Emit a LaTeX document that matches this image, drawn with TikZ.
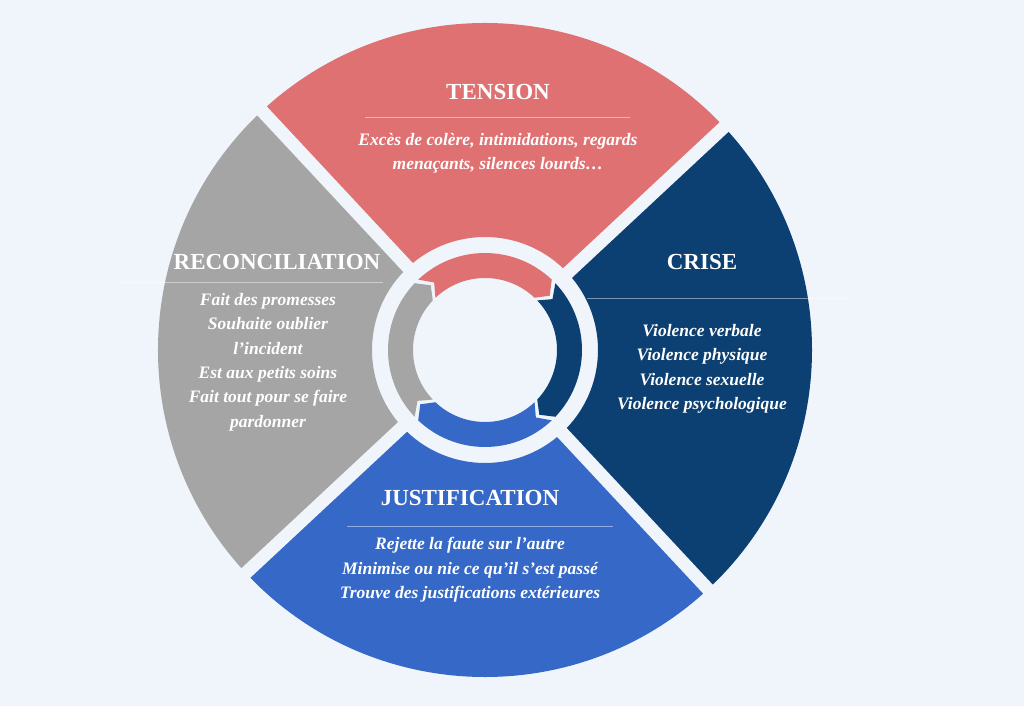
\documentclass[tikz,border=0pt]{standalone}
\usepackage{fontspec}
\setmainfont{Liberation Serif}
\usetikzlibrary{calc}
\definecolor{BgColor}{HTML}{EFF5FB}
\definecolor{TensionRed}{HTML}{E07172}
\definecolor{CriseBlue}{HTML}{0C3F72}
\definecolor{JustBlue}{HTML}{3568C7}
\definecolor{ReconGray}{HTML}{A5A5A5}
\tikzstyle{TitleNode}=[text=white, inner sep=0pt, font=\fontsize{23}{27}\selectfont\bfseries]
\tikzstyle{BodyNode}=[text=white, inner sep=0pt, align=center, font=\fontsize{17.5}{24.4}\selectfont\bfseries\itshape]
\tikzstyle{SepLine}=[white, opacity=.45, line width=.8pt]
\tikzstyle{GapLine}=[BgColor, line width=13pt]

\begin{document}
\begin{tikzpicture}[x=1pt, y=1pt]
\fill[BgColor] (-485,-356) rectangle (539,350);
\useasboundingbox (-485,-356) rectangle (539,350);

\foreach \a/\b/\c in {43/133/TensionRed, -47/43/CriseBlue, -137/-47/JustBlue, 133/223/ReconGray}
  \fill[\c] (\a:113) -- (\a:327) arc[start angle=\a, end angle=\b, radius=327] -- (\b:113) arc[start angle=\b, end angle=\a, radius=113] -- cycle;
\foreach \g in {43,133,223,313}
  \draw[GapLine] (\g:100) -- (\g:340);

\foreach \g/\c in {133/TensionRed, 43/CriseBlue, -47/JustBlue, -137/ReconGray}{
  \pgfmathsetmacro{\TailAng}{\g+0.5}
  \pgfmathsetmacro{\HeadAng}{\g-86.5}
  \fill[\c] (\TailAng:97) arc[start angle=\TailAng, end angle=\HeadAng, radius=97] -- ({\HeadAng-6.5}:84.5) -- (\HeadAng:72) arc[start angle=\HeadAng, end angle=\TailAng, radius=72] -- ({\TailAng-6.5}:84.5) -- cycle;
}

\node[TitleNode](TensionTitle) at (13,258) {TENSION};
\draw[SepLine] (-120,233) -- (145,233);
\node[BodyNode](TensionText) at (13,197) {Excès de colère, intimidations, regards\\menaçants, silences lourds…};

\node[TitleNode](CriseTitle) at (217,88) {CRISE};
\draw[SepLine] (102,52) -- (365,52);
\node[BodyNode](CriseText) at (217,-19) {Violence verbale\\Violence physique\\Violence sexuelle\\Violence psychologique};

\node[TitleNode](JustTitle) at (-15,-148) {JUSTIFICATION};
\draw[SepLine] (-138,-176) -- (128,-176);
\node[BodyNode](JustText) at (-15,-220) {Rejette la faute sur l'autre\\Minimise ou nie ce qu'il s'est passé\\Trouve des justifications extérieures};

\node[TitleNode](ReconTitle) at (-208,88) {RECONCILIATION};
\draw[SepLine] (-365,68) -- (-102,68);
\node[BodyNode](ReconText) at (-217,-12) {Fait des promesses\\Souhaite oublier\\l'incident\\Est aux petits soins\\Fait tout pour se faire\\pardonner};
\end{tikzpicture}
\end{document}
